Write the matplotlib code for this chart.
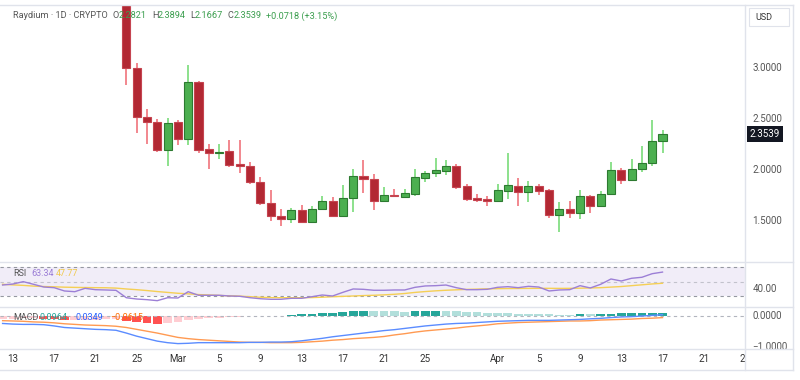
import numpy as np
import pandas as pd
import matplotlib
matplotlib.use("Agg")
import matplotlib.pyplot as plt
import matplotlib.transforms as mtransforms
from matplotlib.lines import Line2D
from matplotlib.patches import Rectangle

# =========================
# Data
# =========================

start_day = pd.Timestamp("2025-02-12")
candle_start = pd.Timestamp("2025-02-24")

opens = [3.95, 3.00, 2.525, 2.473, 2.20, 2.47, 2.308, 2.867, 2.204, 2.17, 2.184, 2.059,
         2.042, 1.885, 1.678, 1.55, 1.52, 1.609, 1.488, 1.613, 1.698, 1.55, 1.724, 1.944,
         1.914, 1.695, 1.75, 1.737, 1.767, 1.924, 1.97, 1.993, 2.036, 1.839, 1.724, 1.714,
         1.695, 1.796, 1.845, 1.783, 1.839, 1.80, 1.554, 1.616, 1.573, 1.744, 1.642, 1.761,
         1.997, 1.899, 2.01, 2.066, 2.2821]
highs = [4.05, 3.057, 2.60, 2.50, 2.515, 2.49, 3.034, 2.88, 2.253, 2.256, 2.30, 2.296,
         2.076, 1.928, 1.803, 1.613, 1.629, 1.655, 1.645, 1.744, 1.731, 1.849, 2.007, 2.096,
         1.96, 1.833, 1.81, 1.813, 2.01, 1.99, 2.118, 2.096, 2.059, 1.859, 1.767, 1.744,
         1.865, 2.164, 1.921, 1.895, 1.865, 1.813, 1.685, 1.692, 1.80, 1.754, 1.796, 2.076,
         2.02, 2.111, 2.236, 2.49, 2.3894]
lows = [2.837, 2.36, 2.256, 2.18, 2.04, 2.243, 2.243, 2.17, 2.007, 2.11, 2.03, 1.967,
        1.859, 1.658, 1.50, 1.451, 1.478, 1.475, 1.485, 1.606, 1.54, 1.545, 1.589, 1.776,
        1.606, 1.69, 1.735, 1.727, 1.747, 1.879, 1.931, 1.948, 1.813, 1.695, 1.685, 1.645,
        1.69, 1.717, 1.645, 1.685, 1.757, 1.524, 1.386, 1.53, 1.514, 1.579, 1.632, 1.751,
        1.859, 1.895, 1.983, 2.04, 2.1667]
closes = [3.002, 2.525, 2.47, 2.20, 2.466, 2.305, 2.864, 2.20, 2.17, 2.18, 2.052, 2.04,
          1.882, 1.672, 1.547, 1.52, 1.609, 1.484, 1.616, 1.698, 1.55, 1.727, 1.941, 1.911,
          1.695, 1.75, 1.745, 1.77, 1.928, 1.973, 1.997, 2.036, 1.835, 1.714, 1.707, 1.695,
          1.803, 1.849, 1.78, 1.842, 1.793, 1.554, 1.616, 1.573, 1.741, 1.645, 1.761, 1.997,
          1.899, 2.01, 2.066, 2.286, 2.3539]

# indicators, one value per day from Feb 12
rsi = [45.3, 46.7, 50.0, 46.3, 42.5, 41.6, 37.0, 36.0, 40.7, 38.8, 38.4, 37.9, 27.6,
       25.8, 24.9, 23.5, 27.6, 27.2, 36.0, 31.0, 31.0, 31.0, 30.0, 29.6, 27.6, 26.2,
       25.4, 25.4, 26.8, 26.8, 29.0, 31.4, 30.0, 35.1, 39.8, 39.3, 38.0, 38.0, 38.4,
       38.4, 42.1, 44.0, 44.4, 45.3, 41.6, 38.8, 38.8, 39.3, 42.1, 43.0, 41.6, 43.5,
       42.5, 37.0, 38.4, 38.8, 44.4, 41.2, 46.3, 53.7, 50.9, 54.7, 56.1, 61.1, 63.34]
rsi_ma = [46.3, 45.5, 44.8, 43.8, 43.2, 42.8, 42.3, 42.0, 41.8, 41.6, 41.5, 41.0, 39.8,
          38.8, 37.6, 36.2, 35.0, 33.8, 33.0, 32.0, 31.4, 30.8, 30.2, 29.8, 29.0, 28.3,
          27.8, 27.6, 27.6, 27.6, 27.8, 28.3, 29.0, 29.5, 30.0, 30.6, 31.0, 31.6, 32.4,
          33.5, 35.0, 36.2, 37.2, 38.0, 38.6, 39.2, 39.6, 40.0, 40.2, 40.4, 40.5, 40.6,
          40.7, 40.7, 40.6, 40.7, 40.9, 41.2, 41.6, 42.4, 43.2, 44.4, 45.6, 46.8, 47.77]
macd = [-0.25, -0.27, -0.28, -0.28, -0.29, -0.33, -0.38, -0.40, -0.42, -0.44, -0.45,
        -0.47, -0.56, -0.66, -0.74, -0.82, -0.87, -0.90, -0.89, -0.87, -0.87, -0.87,
        -0.87, -0.87, -0.86, -0.86, -0.85, -0.85, -0.84, -0.81, -0.77, -0.73, -0.68,
        -0.64, -0.60, -0.56, -0.52, -0.48, -0.45, -0.41, -0.37, -0.33, -0.30, -0.27,
        -0.25, -0.24, -0.22, -0.20, -0.18, -0.17, -0.16, -0.15, -0.15, -0.15, -0.14,
        -0.13, -0.12, -0.10, -0.085, -0.06, -0.04, -0.03, -0.01, 0.01, 0.0349]
signal = [-0.16, -0.17, -0.18, -0.20, -0.21, -0.23, -0.26, -0.28, -0.30, -0.31, -0.32,
          -0.34, -0.38, -0.44, -0.50, -0.56, -0.63, -0.70, -0.74, -0.77, -0.79, -0.81,
          -0.83, -0.85, -0.86, -0.86, -0.87, -0.87, -0.87, -0.86, -0.84, -0.82, -0.79,
          -0.77, -0.74, -0.72, -0.70, -0.67, -0.62, -0.58, -0.53, -0.49, -0.46, -0.43,
          -0.40, -0.36, -0.33, -0.30, -0.26, -0.24, -0.22, -0.21, -0.20, -0.19, -0.18,
          -0.17, -0.17, -0.16, -0.14, -0.13, -0.12, -0.11, -0.09, -0.08, -0.0615]
hist = [-0.10, -0.095, -0.09, -0.085, -0.10, -0.12, -0.14, -0.135, -0.13, -0.125, -0.12,
        -0.115, -0.17, -0.21, -0.24, -0.26, -0.24, -0.20, -0.15, -0.11, -0.08, -0.06,
        -0.04, -0.03, -0.02, -0.015, -0.01, -0.005, 0.02, 0.04, 0.06, 0.08, 0.10, 0.12,
        0.14, 0.155, 0.15, 0.145, 0.14, 0.135, 0.145, 0.155, 0.16, 0.15, 0.14, 0.12,
        0.11, 0.10, 0.09, 0.08, 0.07, 0.06, 0.05, 0.04, 0.03, 0.025, 0.045, 0.04, 0.05,
        0.065, 0.075, 0.08, 0.085, 0.09, 0.0964]

tick_dates = ["2025-02-13", "2025-02-17", "2025-02-21", "2025-02-25", "2025-03-01",
              "2025-03-05", "2025-03-09", "2025-03-13", "2025-03-17", "2025-03-21",
              "2025-03-25", "2025-04-01", "2025-04-05", "2025-04-09", "2025-04-13",
              "2025-04-17", "2025-04-21", "2025-04-25"]
tick_labels = ["13", "17", "21", "25", "Mar", "5", "9", "13", "17", "21", "25",
               "Apr", "5", "9", "13", "17", "21", "25"]

price_ticks = [3.0, 2.5, 2.0, 1.5]

# =========================
# Figure layout (pixel boxes)
# =========================

W, H = 800, 380
fig = plt.figure(figsize=(W / 100, H / 100), dpi=100)
plt.rcParams["font.family"] = ["Roboto", "DejaVu Sans"]

def box(x0, y0, x1, y1):
    return [x0 / W, 1 - y1 / H, (x1 - x0) / W, (y1 - y0) / H]

def fig_line(xs, ys, color="#e0e3eb", lw=1.0):
    fig.add_artist(Line2D([x / W for x in xs], [1 - y / H for y in ys],
                          transform=fig.transFigure, color=color, lw=lw))

XLIM = (-0.252, 72.0)
PANE_R = 745

ax = fig.add_axes(box(0, 5, PANE_R, 262))
ax_rsi = fig.add_axes(box(0, 262, PANE_R, 306))
ax_macd = fig.add_axes(box(0, 307, PANE_R, 349))
ax_time = fig.add_axes(box(0, 349, PANE_R, 370))
for a in (ax, ax_rsi, ax_macd, ax_time):
    a.set_xlim(*XLIM)
    a.axis("off")

ax.set_ylim(1.0936, 3.6256)
ax_rsi.set_ylim(16.06, 77.39)
ax_macd.set_ylim(-1.074, 0.281)

# price-scale columns on the right
axp = fig.add_axes(box(PANE_R, 5, 793, 262), sharey=ax)
axp_rsi = fig.add_axes(box(PANE_R, 262, 793, 306), sharey=ax_rsi)
axp_macd = fig.add_axes(box(PANE_R, 307, 793, 349), sharey=ax_macd)
for a in (axp, axp_rsi, axp_macd):
    a.axis("off")

# =========================
# Candles
# =========================

c0 = (candle_start - start_day).days
cx = np.arange(len(opens)) + c0
for x, o, h, l, c in zip(cx, opens, highs, lows, closes):
    up = c >= o
    wick = "#79dc79" if up else "#f0737b"
    body = "#4caf50" if up else "#b22833"
    edge = "#2d7a31" if up else "#c54450"
    ax.vlines(x, l, h, color=wick, lw=1.2, zorder=2)
    height = max(abs(c - o), 0.008)
    ax.bar(x, height, bottom=min(o, c), width=0.78, color=body,
           edgecolor=edge, linewidth=0.8, zorder=3)

# =========================
# RSI pane
# =========================

dx = np.arange(len(rsi))
ax_rsi.axhspan(30, 70, color="#7e57c2", alpha=0.1, lw=0)
for lvl, al in ((70, 1.0), (50, 0.5), (30, 1.0)):
    ax_rsi.axhline(lvl, color="#9598a1", lw=0.8, ls=(0, (3, 3)), alpha=al)
ax_rsi.plot(dx, rsi_ma, color="#f5cf55", lw=1.0)
ax_rsi.plot(dx, rsi, color="#9c7fd6", lw=1.0)

# =========================
# MACD pane
# =========================

hist_colors = []
for i, v in enumerate(hist):
    prev = hist[i - 1] if i > 0 else v
    if v >= 0:
        hist_colors.append("#26a69a" if v >= prev else "#b2dfdb")
    else:
        hist_colors.append("#ff5252" if v < prev else "#ffcdd2")
ax_macd.axhline(0, color="#b2b5be", lw=0.8, ls=(0, (3, 3)))
ax_macd.bar(dx, hist, width=0.85, color=hist_colors, lw=0)
ax_macd.plot(dx, signal, color="#ff9a52", lw=1.0)
ax_macd.plot(dx, macd, color="#5b8cff", lw=1.0)

# =========================
# Time axis
# =========================

time_tr = mtransforms.blended_transform_factory(ax_time.transData, ax_time.transAxes)
for d, lab in zip(tick_dates, tick_labels):
    xi = (pd.Timestamp(d) - start_day).days
    ax_time.text(xi, 0.5, lab, ha="center", va="center", fontsize=7,
                 color="#333333", clip_on=True, transform=time_tr)

# =========================
# Right scale labels
# =========================

def scale_label(a, y, s):
    tr = mtransforms.blended_transform_factory(a.transAxes, a.transData)
    a.text(0.15, y, s, transform=tr, ha="left", va="center", fontsize=7,
           color="#555555", clip_on=True)

for p in price_ticks:
    scale_label(axp, p, f"{p:.4f}")
scale_label(axp_rsi, 40, "40.00")
scale_label(axp_macd, 0.0, "0.0000")
scale_label(axp_macd, -1.0, "\u22121.0000")

tr = mtransforms.blended_transform_factory(axp.transAxes, axp.transData)
axp.text(0.1, closes[-1], f"{closes[-1]:.4f}", transform=tr, ha="left", va="center",
         fontsize=7, color="white", zorder=5,
         bbox=dict(boxstyle="square,pad=0.3", fc="#131722", ec="none"))

# USD box
fig.add_artist(Rectangle((749 / W, 1 - 26 / H), 40 / W, 18 / H, transform=fig.transFigure,
                         fc="white", ec="#e0e3eb", lw=0.8))
fig.text(755 / W, 1 - 17 / H, "USD", fontsize=6.5, color="#333333", va="center")

# =========================
# Legends / header
# =========================

def ftext(x, y, s, color, size=6.6):
    fig.text(x / W, 1 - y / H, s, color=color, fontsize=size, va="center", ha="left",
             zorder=10)

green = "#3b9e4e"
gray = "#555555"
ftext(13, 16, "Raydium \u00b7 1D \u00b7 CRYPTO", gray)
ftext(113, 16, "O", gray)
ftext(119, 16, "2.2821", green)
ftext(152, 16, "H", gray)
ftext(158, 16, "2.3894", green)
ftext(190, 16, "L", gray)
ftext(195, 16, "2.1667", green)
ftext(228, 16, "C", gray)
ftext(234, 16, "2.3539", green)
ftext(266, 16, "+0.0718 (+3.15%)", green)

ftext(13, 273, "RSI", gray, 6.5)
ftext(31, 273, f"{rsi[-1]:.2f}", "#9c7fd6", 6.5)
ftext(56, 273, f"{rsi_ma[-1]:.2f}", "#f0c94a", 6.5)

ftext(13, 318, "MACD", gray, 6.5)
ftext(40, 318, f"{hist[-1]:.4f}", "#26a69a", 6.5)
ftext(75, 318, f"{macd[-1]:.4f}", "#2962ff", 6.5)
ftext(110, 318, "\u22120.0615", "#ff6d00", 6.5)

# =========================
# Frame lines
# =========================

for y in (4.5, 262, 306.5, 349, 370):
    fig_line([0, 793], [y, y])
fig_line([PANE_R, PANE_R], [4.5, 370])
fig_line([793, 793], [4.5, 370])

fig.savefig("out.png", dpi=100, facecolor="white")
